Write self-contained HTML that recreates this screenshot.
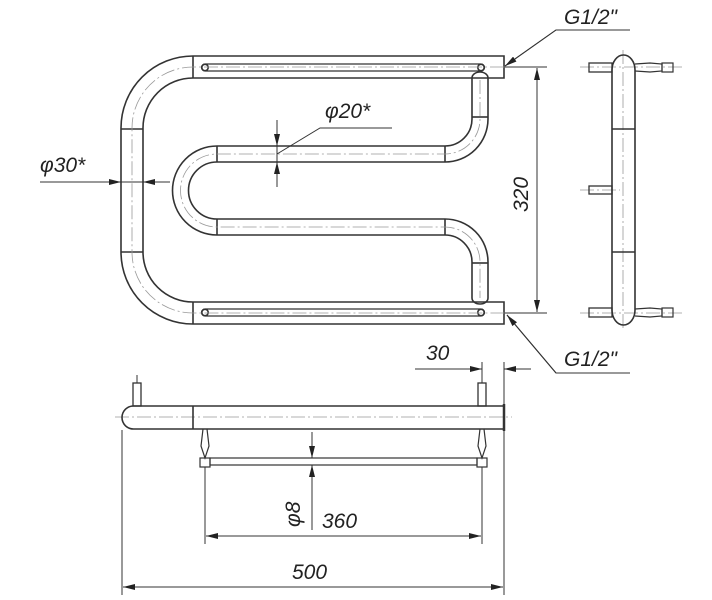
<!DOCTYPE html>
<html><head><meta charset="utf-8"><style>
html,body{margin:0;padding:0;background:#fff;}
svg{display:block;}
text{font-family:"Liberation Sans",sans-serif;font-style:italic;font-size:21px;fill:#222;}
</style></head><body>
<svg width="712" height="600" viewBox="0 0 712 600" xmlns="http://www.w3.org/2000/svg">
<defs>
<marker id="a" viewBox="0 0 12 6" refX="12" refY="3" markerWidth="12" markerHeight="6" orient="auto-start-reverse" markerUnits="userSpaceOnUse"><path d="M0,0 L12,3 L0,6 z" fill="#222"/></marker>
</defs>
<g fill="none" stroke="#333" stroke-width="1.6">
<path d="M193,56 A72,72 0 0 0 121,128 L121,252 A72,72 0 0 0 193,324 L504,324 L504,302 L193,302 A50,50 0 0 1 143,252 L143,128 A50,50 0 0 1 193,78 L504,78 L504,56 Z"/>
<line x1="193" y1="56" x2="193" y2="78"/><line x1="193" y1="302" x2="193" y2="324"/>
<line x1="121" y1="129" x2="143" y2="129"/><line x1="121" y1="252" x2="143" y2="252"/>
<path d="M205,64 L481,64 A3.5,3.5 0 0 1 481,71 L205,71 A3.5,3.5 0 0 1 205,64 Z" stroke-width="1.2"/>
<path d="M205,309 L481,309 A3.5,3.5 0 0 1 481,316 L205,316 A3.5,3.5 0 0 1 205,309 Z" stroke-width="1.2"/>
<circle cx="205" cy="67.5" r="3.2"/><circle cx="481" cy="67.5" r="3.2"/>
<circle cx="205" cy="312.5" r="3.2"/><circle cx="481" cy="312.5" r="3.2"/>
<path d="M472,78 A8,6 0 0 1 488,78 L488,119 A43,43 0 0 1 445,162 L217,162 A28.5,28.5 0 0 0 217,219 L445,219 A43,43 0 0 1 488,262 L488,298 A8,6 0 0 1 472,298 L472,262 A27,27 0 0 0 445,235 L217,235 A44.5,44.5 0 0 1 217,146 L445,146 A27,27 0 0 0 472,119 Z"/>
<line x1="217" y1="146" x2="217" y2="162"/><line x1="445" y1="146" x2="445" y2="162"/>
<line x1="217" y1="219" x2="217" y2="235"/><line x1="445" y1="219" x2="445" y2="235"/>
<line x1="472" y1="117" x2="488" y2="117"/><line x1="472" y1="263" x2="488" y2="263"/>
</g>
<g fill="none" stroke="#999" stroke-width="0.8" stroke-dasharray="14,3,2,3">
<path d="M504,67 L193,67 A61,61 0 0 0 132,128 L132,252 A61,61 0 0 0 193,313 L504,313"/>
<path d="M480,80 L480,119 A35,35 0 0 1 445,154 L217,154 A36.5,36.5 0 0 0 217,227 L445,227 A35,35 0 0 1 480,262 L480,298"/>
<line x1="623" y1="50" x2="623" y2="330"/>
<line x1="115" y1="417" x2="512" y2="417"/>
<line x1="580" y1="67" x2="682" y2="67"/><line x1="580" y1="190" x2="620" y2="190"/><line x1="580" y1="313" x2="682" y2="313"/>
</g>
<g stroke="#333" stroke-width="1" fill="none">
<line x1="505" y1="67" x2="547" y2="67"/><line x1="505" y1="313" x2="547" y2="313"/>
<line x1="537" y1="68" x2="537" y2="312" marker-start="url(#a)" marker-end="url(#a)"/>
<line x1="277" y1="120" x2="277" y2="146" marker-end="url(#a)"/>
<line x1="277" y1="187" x2="277" y2="162" marker-end="url(#a)"/>
<line x1="277" y1="146" x2="277" y2="162"/>
<polyline points="277,154 320,128 392,128"/>
<line x1="40" y1="182" x2="121" y2="182" marker-end="url(#a)"/>
<line x1="170" y1="182" x2="143" y2="182" marker-end="url(#a)"/>
<line x1="121" y1="182" x2="143" y2="182"/>
<polyline points="630,30 556,30 505,66" />
<line x1="556" y1="30" x2="505" y2="66" marker-end="url(#a)"/>
<polyline points="630,373 556,373 507,315"/>
<line x1="556" y1="373" x2="507" y2="315" marker-end="url(#a)"/>
</g>
<text x="564" y="24">G1/2"</text>
<text x="564" y="366">G1/2"</text>
<text x="325" y="118">φ20*</text>
<text x="40" y="172">φ30*</text>
<text transform="translate(528,212) rotate(-90)">320</text>
<g fill="none" stroke="#333" stroke-width="1.6">
<path d="M612,70 A11.5,15 0 0 1 635,70 L635,310 A11.5,15 0 0 1 612,310 Z"/>
<line x1="612" y1="129" x2="635" y2="129"/><line x1="612" y1="252" x2="635" y2="252"/>
<rect x="589" y="63" width="23" height="9" stroke-width="1.3"/>
<rect x="589" y="186" width="23" height="8" stroke-width="1.3"/>
<rect x="589" y="308" width="23" height="9" stroke-width="1.3"/>
<path d="M635,64 L650,63 L662,64 L662,71 L650,72 L635,71" stroke-width="1.2"/>
<rect x="662" y="63" width="11" height="9" stroke-width="1.2"/>
<path d="M635,309 L650,308 L662,309 L662,316 L650,317 L635,316" stroke-width="1.2"/>
<rect x="662" y="308" width="11" height="9" stroke-width="1.2"/>
</g>
<g fill="none" stroke="#333" stroke-width="1.6">
<path d="M133.5,406 L504,406 L504,429 L133.5,429 A11.5,11.5 0 0 1 133.5,406 Z"/>
<line x1="193" y1="406" x2="193" y2="429"/>
<line x1="504" y1="404" x2="504" y2="431" stroke-width="2.5"/>
<rect x="133" y="383" width="8" height="23" stroke-width="1.3"/>
<rect x="478" y="383" width="8" height="23" stroke-width="1.3"/>
<path d="M203,429 L201,446 L205,458 L209,446 L207,429" stroke-width="1.2"/>
<rect x="200" y="458" width="10" height="9" stroke-width="1.2"/>
<path d="M480,429 L478,446 L482,458 L486,446 L484,429" stroke-width="1.2"/>
<rect x="477" y="458" width="10" height="9" stroke-width="1.2"/>
<rect x="210" y="458" width="267" height="7" stroke-width="1.2"/>
</g>
<g stroke="#333" stroke-width="1" fill="none">
<line x1="137" y1="375" x2="137" y2="383"/><line x1="482" y1="362" x2="482" y2="383"/>
<line x1="504" y1="362" x2="504" y2="404"/>
<line x1="415" y1="369" x2="482" y2="369" marker-end="url(#a)"/>
<line x1="531" y1="369" x2="504" y2="369" marker-end="url(#a)"/>
<line x1="312" y1="432" x2="312" y2="458" marker-end="url(#a)"/>
<line x1="312" y1="530" x2="312" y2="465" marker-end="url(#a)"/>
<line x1="205" y1="467" x2="205" y2="544"/><line x1="482" y1="467" x2="482" y2="544"/>
<line x1="206" y1="536" x2="481" y2="536" marker-start="url(#a)" marker-end="url(#a)"/>
<line x1="122" y1="430" x2="122" y2="595"/><line x1="504" y1="431" x2="504" y2="595"/>
<line x1="123" y1="587" x2="503" y2="587" marker-start="url(#a)" marker-end="url(#a)"/>
</g>
<text x="426" y="360">30</text>
<text transform="translate(300,527) rotate(-90)">φ8</text>
<text x="322" y="528">360</text>
<text x="292" y="579">500</text>
</svg>
</body></html>
